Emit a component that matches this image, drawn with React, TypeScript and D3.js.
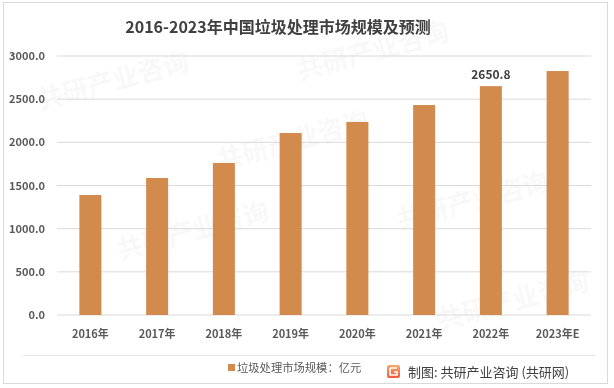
import React from "react";
import { scaleBand, scaleLinear } from "d3";

const years = ["2016年", "2017年", "2018年", "2019年", "2020年", "2021年", "2022年", "2023年E"];
const marketSize = [1390, 1587, 1761, 2108, 2236, 2432, 2650.8, 2826];
const yTicks = [0, 500, 1000, 1500, 2000, 2500, 3000];
const labelled = ["2022年"];

const font = "'Microsoft YaHei', 'Noto Sans CJK SC', 'Noto Sans', sans-serif";

export default function App() {
  const width = 614;
  const height = 388;
  const plot = { left: 57, right: 591, top: 56, bottom: 315 };

  const x = scaleBand<string>().domain(years).range([plot.left, plot.right]).paddingInner(0.67).paddingOuter(0.335);
  const y = scaleLinear().domain([0, 3000]).range([plot.bottom, plot.top]);

  // faint watermark positions
  const marks = [[40, 110], [300, 80], [120, 260], [400, 230], [220, 170], [440, 330]];

  return (
    <svg width={width} height={height} style={{ position: "absolute", left: 0, top: 0 }} fontFamily={font}>
      <rect x={0} y={0} width={width} height={height} fill="#fff" />
      <rect x={3.5} y={2.5} width={604} height={381} fill="none" stroke="#d9d9d9" />

      <g fill="#000" opacity={0.03} fontWeight="bold" fontSize={26}>
        {marks.map(([wx, wy], i) => (
          <text key={i} x={wx} y={wy} transform={`rotate(-15 ${wx} ${wy})`}>共研产业咨询</text>
        ))}
      </g>

      <text x={278} y={33} textAnchor="middle" fontSize={16} fontWeight="bold" fill="#404040">
        2016-2023年中国垃圾处理市场规模及预测
      </text>

      {yTicks.map(t => (
        <g key={t}>
          <line x1={plot.left} x2={plot.right} y1={y(t)} y2={y(t)} stroke="#d9d9d9" strokeWidth={1} />
          <text x={45} y={y(t) + 4} textAnchor="end" fontSize={11} fontWeight="bold" fill="#595959">
            {t.toFixed(1)}
          </text>
        </g>
      ))}

      {years.map((yr, i) => (
        <g key={yr}>
          <rect x={x(yr)} y={y(marketSize[i])} width={x.bandwidth()} height={plot.bottom - y(marketSize[i])} fill="#d38b4d" />
          <text x={(x(yr) ?? 0) + x.bandwidth() / 2} y={338} textAnchor="middle" fontSize={11} fontWeight="bold" fill="#595959">
            {yr}
          </text>
          {labelled.includes(yr) && (
            <text x={(x(yr) ?? 0) + x.bandwidth() / 2} y={y(marketSize[i]) - 7} textAnchor="middle" fontSize={12} fontWeight="bold" fill="#404040">
              {marketSize[i].toFixed(1)}
            </text>
          )}
        </g>
      ))}

      <line x1={23} x2={595} y1={355.5} y2={355.5} stroke="#e6e6e6" />

      <rect x={228} y={364} width={7} height={7} fill="#d38b4d" />
      <text x={237} y={372} fontSize={11.3} fill="#595959">垃圾处理市场规模：亿元</text>

      <defs>
        <linearGradient id="logo" x1="0" y1="0" x2="0" y2="1">
          <stop offset="0" stopColor="#f9a86a" />
          <stop offset="1" stopColor="#f15a3a" />
        </linearGradient>
      </defs>
      <rect x={387} y={365} width={13} height={13} rx={2} fill="url(#logo)" />
      <path d="M390 368 h7 M390 368 v7 h7 v-3 h-3" stroke="#fff" strokeWidth={1.6} fill="none" />
      <text x={408} y={377} fontSize={13} fill="#404040">制图: 共研产业咨询 (共研网)</text>
    </svg>
  );
}
